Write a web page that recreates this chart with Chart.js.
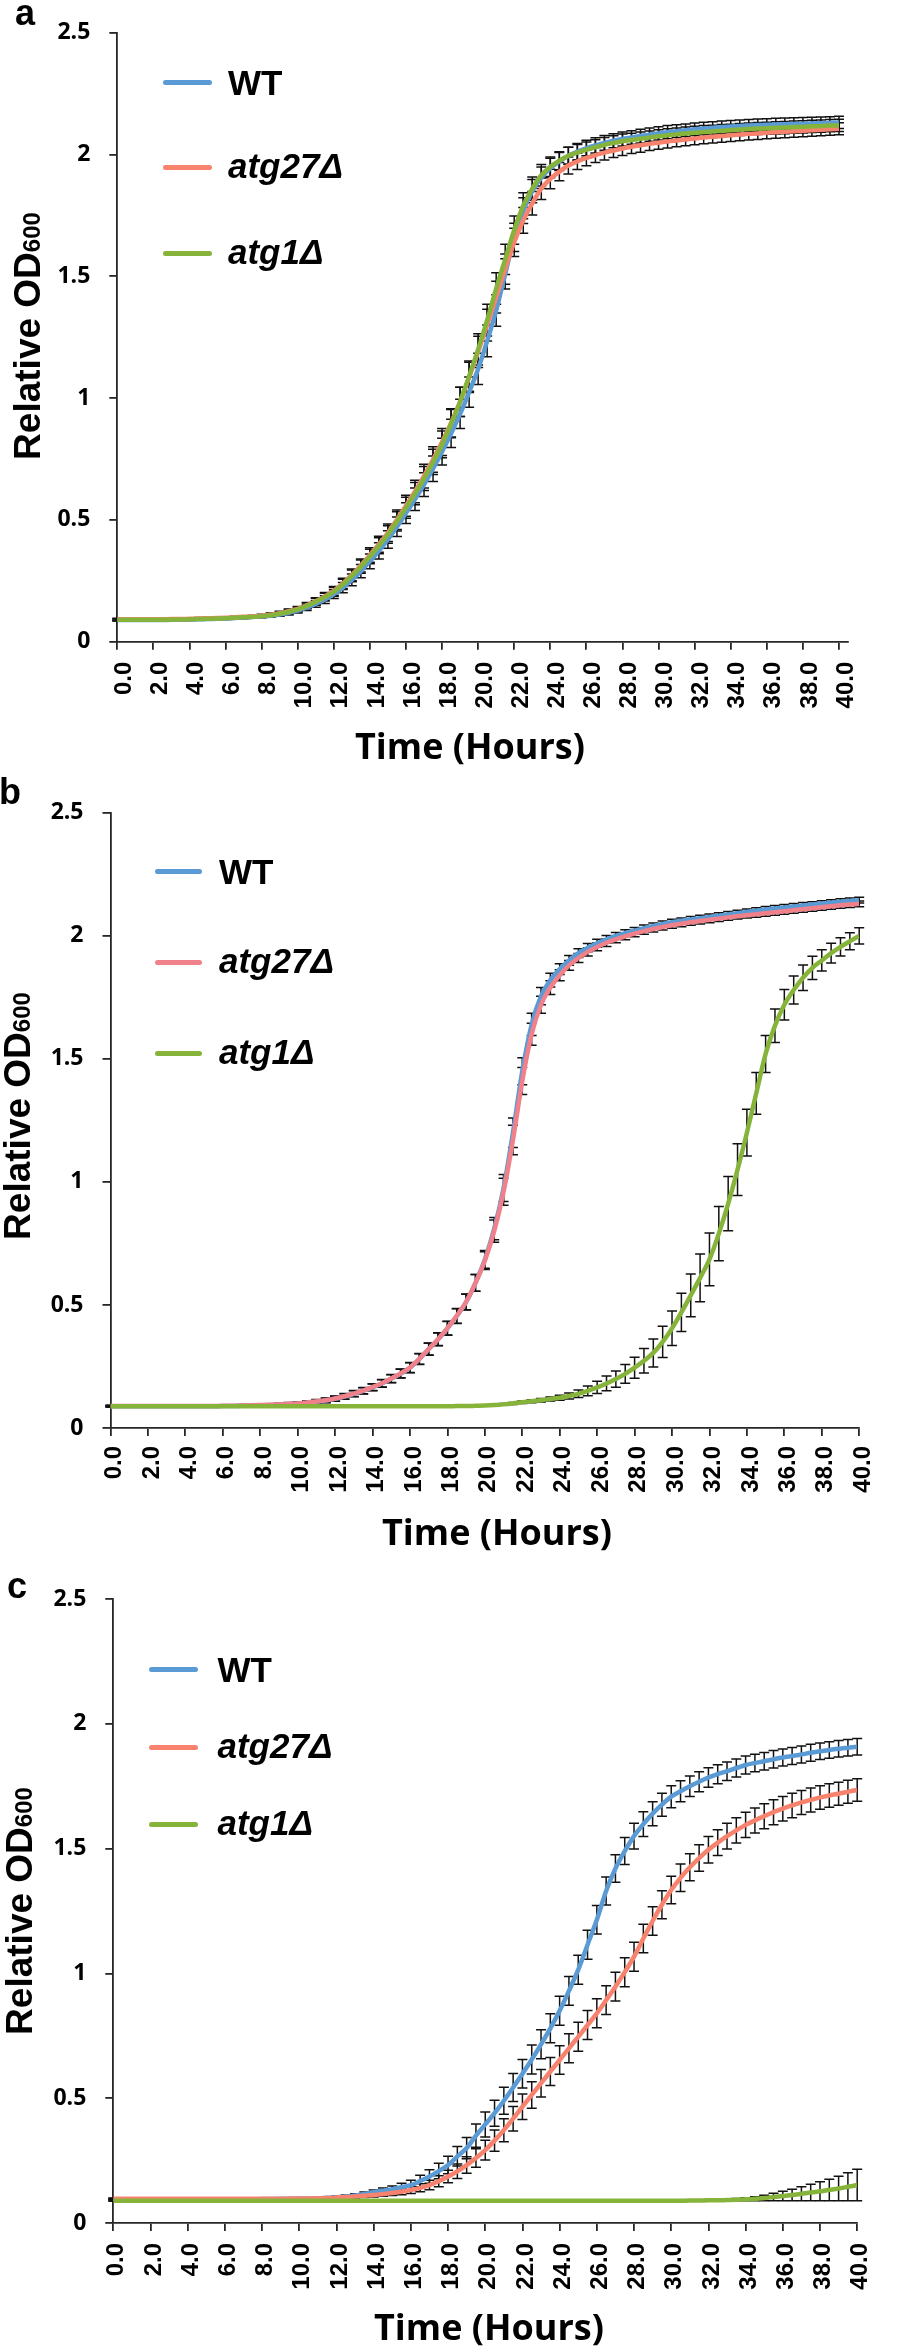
<!DOCTYPE html>
<html>
<head>
<meta charset="utf-8">
<script src="https://cdn.jsdelivr.net/npm/chart.js@4.4.1/dist/chart.umd.min.js"></script>
<style>
  body { margin: 0; background: #fff; }
  #page { position: relative; width: 898px; height: 2350px; overflow: hidden; }
  canvas { position: absolute; left: 0; }
  .letter { position: absolute; font: bold 36px 'Liberation Sans', Arial, sans-serif; line-height: 1; }
  .ytitle { position: absolute; font: bold 37px 'Liberation Sans', Arial, sans-serif; line-height: 1;
            white-space: nowrap; transform: translate(-50%, -50%) rotate(-90deg); }
  .ytitle span { font-size: 24px; }
  .xtitle { position: absolute; font: bold 36px 'Open Sans', sans-serif; line-height: 1;
            white-space: nowrap; transform: translateX(-50%); }
  .key { position: absolute; height: 5px; border-radius: 2.5px; }
  .name { position: absolute; font: bold 35px 'Liberation Sans', Arial, sans-serif; line-height: 1;
          white-space: nowrap; transform: translateY(-50%); }
  .name.it { font-style: italic; }
</style>
</head>
<body>
<div id="page"></div>
<script>
// ---- data (half-hour readings, 0-40 h) ----
const HOURS = [
  0, 0.5, 1, 1.5, 2, 2.5, 3, 3.5, 4, 4.5,
  5, 5.5, 6, 6.5, 7, 7.5, 8, 8.5, 9, 9.5,
  10, 10.5, 11, 11.5, 12, 12.5, 13, 13.5, 14, 14.5,
  15, 15.5, 16, 16.5, 17, 17.5, 18, 18.5, 19, 19.5,
  20, 20.5, 21, 21.5, 22, 22.5, 23, 23.5, 24, 24.5,
  25, 25.5, 26, 26.5, 27, 27.5, 28, 28.5, 29, 29.5,
  30, 30.5, 31, 31.5, 32, 32.5, 33, 33.5, 34, 34.5,
  35, 35.5, 36, 36.5, 37, 37.5, 38, 38.5, 39, 39.5,
  40
];
const X_TICKS = [0, 2, 4, 6, 8, 10, 12, 14, 16, 18, 20, 22, 24, 26, 28, 30, 32, 34, 36, 38, 40];
const Y_TICKS = [0, 0.5, 1, 1.5, 2, 2.5];
const SERIES_NAMES = ['WT', 'atg27Δ', 'atg1Δ'];

// panel a
const A_WT = [
  .089, .089, .089, .089, .089, .089, .090, .090, .091, .092,
  .093, .094, .095, .097, .099, .101, .104, .107, .112, .119,
  .128, .140, .155, .173, .195, .222, .254, .290, .330, .373,
  .420, .472, .528, .585, .645, .710, .780, .855, .935, 1.025,
  1.120, 1.235, 1.360, 1.510, 1.660, 1.770, 1.850, 1.905, 1.945, 1.972,
  1.995, 2.012, 2.027, 2.038, 2.048, 2.057, 2.064, 2.070, 2.076, 2.082,
  2.087, 2.092, 2.096, 2.100, 2.104, 2.107, 2.110, 2.113, 2.115, 2.117,
  2.119, 2.121, 2.122, 2.124, 2.125, 2.126, 2.127, 2.128, 2.129, 2.130,
  2.132
];
const A_ATG27 = [
  .092, .092, .092, .092, .092, .092, .093, .093, .094, .095,
  .096, .097, .098, .100, .102, .104, .107, .111, .117, .125,
  .135, .149, .166, .186, .209, .239, .274, .313, .356, .400,
  .447, .501, .558, .617, .680, .748, .820, .898, .985, 1.085,
  1.190, 1.300, 1.415, 1.530, 1.640, 1.730, 1.800, 1.860, 1.900, 1.930,
  1.955, 1.972, 1.986, 1.998, 2.008, 2.017, 2.025, 2.032, 2.038, 2.044,
  2.049, 2.054, 2.058, 2.062, 2.066, 2.070, 2.073, 2.076, 2.079, 2.082,
  2.085, 2.087, 2.090, 2.092, 2.094, 2.096, 2.098, 2.100, 2.102, 2.104,
  2.106
];
const A_ATG1 = [
  .090, .090, .090, .090, .090, .090, .091, .091, .092, .093,
  .094, .095, .096, .098, .100, .102, .105, .109, .115, .123,
  .133, .147, .164, .183, .205, .235, .270, .308, .350, .394,
  .440, .494, .550, .608, .670, .738, .810, .895, .985, 1.090,
  1.200, 1.320, 1.450, 1.570, 1.690, 1.790, 1.860, 1.915, 1.950, 1.975,
  1.995, 2.008, 2.020, 2.030, 2.040, 2.048, 2.055, 2.060, 2.065, 2.070,
  2.075, 2.079, 2.083, 2.087, 2.090, 2.093, 2.095, 2.098, 2.100, 2.103,
  2.105, 2.107, 2.108, 2.110, 2.111, 2.113, 2.114, 2.116, 2.117, 2.119,
  2.120
];
const A_SD = [
  .004, .004, .004, .004, .004, .004, .004, .004, .004, .004,
  .004, .004, .004, .004, .005, .005, .006, .007, .008, .009,
  .010, .012, .014, .016, .018, .021, .024, .027, .030, .033,
  .036, .040, .043, .046, .049, .052, .055, .058, .060, .062,
  .064, .065, .065, .062, .058, .053, .048, .044, .040, .037,
  .035, .033, .032, .031, .030, .029, .029, .028, .028, .027,
  .027, .027, .026, .026, .026, .026, .025, .025, .025, .025,
  .025, .025, .025, .025, .025, .025, .025, .025, .025, .025,
  .025
];

// panel b
const B_WT = [
  .088, .088, .088, .088, .088, .088, .088, .088, .088, .088,
  .088, .088, .089, .089, .090, .091, .092, .093, .095, .097,
  .099, .103, .107, .112, .119, .128, .139, .151, .165, .181,
  .200, .221, .245, .280, .320, .360, .405, .455, .512, .590,
  .685, .810, .975, 1.200, 1.450, 1.640, 1.755, 1.820, 1.865, 1.900,
  1.930, 1.952, 1.970, 1.986, 2.000, 2.011, 2.021, 2.031, 2.040, 2.048,
  2.055, 2.061, 2.067, 2.072, 2.077, 2.082, 2.087, 2.092, 2.097, 2.102,
  2.107, 2.111, 2.115, 2.119, 2.123, 2.127, 2.131, 2.135, 2.139, 2.142,
  2.145
];
const B_ATG27 = [
  .089, .089, .089, .089, .089, .089, .089, .089, .089, .089,
  .089, .089, .090, .090, .091, .092, .093, .094, .096, .098,
  .100, .104, .108, .113, .120, .129, .140, .152, .166, .182,
  .201, .222, .246, .281, .321, .361, .406, .456, .513, .590,
  .680, .800, .960, 1.170, 1.410, 1.600, 1.720, 1.790, 1.840, 1.880,
  1.910, 1.935, 1.955, 1.972, 1.986, 1.998, 2.009, 2.019, 2.028, 2.036,
  2.043, 2.049, 2.055, 2.060, 2.065, 2.070, 2.075, 2.080, 2.084, 2.088,
  2.092, 2.096, 2.100, 2.104, 2.108, 2.112, 2.116, 2.120, 2.124, 2.127,
  2.130
];
const B_ATG1 = [
  .088, .088, .088, .088, .088, .088, .088, .088, .088, .088,
  .088, .088, .088, .088, .088, .088, .088, .088, .088, .088,
  .088, .088, .088, .088, .088, .088, .088, .088, .088, .088,
  .088, .088, .088, .088, .088, .088, .088, .089, .089, .090,
  .091, .093, .096, .100, .105, .109, .113, .118, .123, .130,
  .139, .151, .165, .181, .199, .220, .245, .273, .305, .350,
  .405, .470, .539, .610, .685, .790, .912, 1.050, 1.200, 1.360,
  1.520, 1.635, 1.720, 1.780, 1.830, 1.870, 1.900, 1.930, 1.955, 1.978,
  2.000
];
const B_SD_WT_ATG27 = [
  .003, .003, .003, .003, .003, .003, .003, .003, .003, .003,
  .003, .003, .003, .003, .004, .004, .004, .005, .005, .006,
  .006, .007, .008, .009, .010, .011, .012, .013, .014, .015,
  .016, .018, .020, .022, .024, .026, .028, .030, .032, .034,
  .036, .045, .055, .060, .055, .045, .035, .028, .022, .020,
  .018, .017, .016, .015, .014, .014, .013, .013, .012, .012,
  .012, .012, .012, .012, .012, .012, .012, .012, .012, .012,
  .012, .012, .012, .012, .012, .012, .012, .012, .012, .012,
  .012
];
const B_SD_ATG1 = [
  .003, .003, .003, .003, .003, .003, .003, .003, .003, .003,
  .003, .003, .003, .003, .003, .003, .003, .003, .003, .003,
  .003, .003, .003, .003, .003, .003, .003, .003, .003, .003,
  .003, .003, .003, .003, .003, .003, .003, .003, .003, .003,
  .003, .003, .004, .004, .005, .006, .007, .008, .010, .012,
  .015, .020, .025, .030, .033, .038, .043, .050, .057, .063,
  .070, .078, .087, .097, .107, .110, .110, .105, .095, .085,
  .075, .068, .062, .057, .052, .047, .043, .040, .037, .035,
  .033
];

// panel c
const C_WT = [
  .095, .095, .095, .095, .095, .095, .095, .095, .095, .095,
  .095, .095, .095, .095, .095, .095, .096, .096, .097, .097,
  .098, .098, .099, .101, .103, .106, .110, .116, .123, .129,
  .135, .143, .152, .168, .186, .208, .232, .267, .300, .350,
  .395, .440, .490, .543, .598, .655, .716, .780, .850, .930,
  1.015, 1.115, 1.215, 1.330, 1.420, 1.490, 1.550, 1.598, 1.640, 1.676,
  1.708, 1.730, 1.750, 1.768, 1.785, 1.798, 1.810, 1.823, 1.835, 1.843,
  1.850, 1.858, 1.865, 1.871, 1.877, 1.884, 1.890, 1.895, 1.900, 1.904,
  1.908
];
const C_ATG27 = [
  .097, .097, .097, .097, .097, .097, .097, .097, .097, .097,
  .097, .097, .097, .097, .097, .097, .097, .097, .097, .098,
  .098, .098, .099, .100, .102, .104, .106, .109, .112, .116,
  .120, .125, .132, .141, .152, .167, .186, .207, .232, .260,
  .292, .330, .372, .418, .466, .513, .560, .607, .653, .700,
  .746, .793, .840, .893, .947, 1.005, 1.067, 1.140, 1.210, 1.275,
  1.334, 1.383, 1.425, 1.462, 1.495, 1.524, 1.550, 1.573, 1.595, 1.613,
  1.630, 1.646, 1.660, 1.673, 1.685, 1.695, 1.705, 1.713, 1.720, 1.728,
  1.735
];
const C_ATG1 = [
  .089, .089, .089, .089, .089, .089, .089, .089, .089, .089,
  .089, .089, .089, .089, .089, .089, .089, .089, .089, .089,
  .089, .089, .089, .089, .089, .089, .089, .089, .089, .089,
  .089, .089, .089, .089, .089, .089, .089, .089, .089, .089,
  .089, .089, .089, .089, .089, .089, .089, .089, .089, .089,
  .089, .089, .089, .089, .089, .089, .089, .089, .089, .089,
  .089, .089, .090, .090, .091, .091, .092, .093, .095, .097,
  .100, .104, .108, .112, .117, .122, .127, .132, .138, .145,
  .152
];
const C_SD_WT = [
  .003, .003, .003, .003, .003, .003, .003, .003, .003, .003,
  .003, .003, .003, .003, .003, .003, .003, .003, .003, .003,
  .003, .003, .004, .004, .005, .006, .007, .008, .009, .011,
  .013, .016, .019, .023, .027, .031, .035, .039, .043, .047,
  .050, .052, .054, .056, .057, .058, .058, .058, .058, .058,
  .058, .058, .057, .056, .055, .054, .052, .050, .048, .046,
  .044, .042, .041, .040, .039, .038, .037, .036, .036, .035,
  .035, .035, .034, .034, .034, .034, .033, .033, .033, .033,
  .033
];
const C_SD_ATG27 = [
  .003, .003, .003, .003, .003, .003, .003, .003, .003, .003,
  .003, .003, .003, .003, .003, .003, .003, .003, .003, .003,
  .003, .003, .003, .004, .004, .005, .006, .007, .008, .009,
  .010, .012, .014, .016, .019, .022, .025, .029, .033, .037,
  .040, .043, .046, .049, .051, .053, .055, .056, .057, .058,
  .058, .058, .058, .058, .058, .058, .058, .057, .057, .056,
  .055, .055, .054, .053, .053, .052, .052, .051, .051, .050,
  .050, .050, .049, .049, .048, .048, .047, .047, .046, .046,
  .045
];
const C_SD_ATG1 = [
  .002, .002, .002, .002, .002, .002, .002, .002, .002, .002,
  .002, .002, .002, .002, .002, .002, .002, .002, .002, .002,
  .002, .002, .002, .002, .002, .002, .002, .002, .002, .002,
  .002, .002, .002, .002, .002, .002, .002, .002, .002, .002,
  .002, .002, .002, .002, .002, .002, .002, .002, .002, .002,
  .002, .002, .002, .002, .002, .002, .002, .002, .002, .002,
  .002, .002, .002, .002, .003, .003, .004, .005, .006, .008,
  .011, .015, .019, .023, .028, .033, .038, .043, .049, .056,
  .063
];

// ---- styling / layout ----
const BLUE = '#5B9BD5';
const SALMON = '#F7836F';
const PINK = '#F08089';
const GREEN = '#86B33A';
const AXIS = '#262626';

const PANELS = [
  { letter: 'a', top: 0, h: 780, left: 117.3, right: 848, areaTop: 31, areaBottom: 641.7, xMax: 40.5,
    tickPad: 12, labelShift: 7, titleX: 26.5, xTitle: [470, 747],
    series: [[A_WT, A_SD, BLUE], [A_ATG27, A_SD, SALMON], [A_ATG1, A_SD, GREEN]],
    key: { x0: 163, x1: 212, tx: 228, rows: [82, 167, 253] }, letterXY: [15, 25] },
  { letter: 'b', top: 780, h: 780, left: 110.5, right: 879.5, areaTop: 23, areaBottom: 648, xMax: 40,
    tickPad: 10, labelShift: 4, titleX: 17, xTitle: [497, 1533],
    series: [[B_WT, B_SD_WT_ATG27, BLUE], [B_ATG27, B_SD_WT_ATG27, PINK], [B_ATG1, B_SD_ATG1, GREEN]],
    key: { x0: 154.5, x1: 201.5, tx: 219, rows: [871, 962, 1053] }, letterXY: [-1, 804] },
  { letter: 'c', top: 1560, h: 790, left: 113.3, right: 864, areaTop: 39, areaBottom: 663, xMax: 40,
    tickPad: 12, labelShift: 3.5, titleX: 18.5, xTitle: [489, 2328],
    series: [[C_WT, C_SD_WT, BLUE], [C_ATG27, C_SD_ATG27, SALMON], [C_ATG1, C_SD_ATG1, GREEN]],
    key: { x0: 149, x1: 197.5, tx: 217.5, rows: [1669, 1747, 1824] }, letterXY: [7, 1598] }
];

// error bars drawn under the lines, from the chart's own scales
const errorBars = {
  id: 'errorBars',
  beforeDatasetsDraw(chart) {
    const { ctx, scales: { x, y } } = chart;
    ctx.save();
    ctx.strokeStyle = '#111';
    ctx.lineWidth = 1.5;
    chart.data.datasets.forEach(ds => {
      ds.data.forEach((p, i) => {
        const px = x.getPixelForValue(p.x);
        const hi = y.getPixelForValue(p.y + ds.sd[i]);
        const lo = y.getPixelForValue(p.y - ds.sd[i]);
        ctx.beginPath();
        ctx.moveTo(px, hi); ctx.lineTo(px, lo);
        ctx.moveTo(px - 5, hi); ctx.lineTo(px + 5, hi);
        ctx.moveTo(px - 5, lo); ctx.lineTo(px + 5, lo);
        ctx.stroke();
      });
    });
    ctx.restore();
  }
};

const page = document.getElementById('page');

function addDiv(cls, css, html) {
  const el = document.createElement('div');
  el.className = cls;
  Object.assign(el.style, css);
  el.innerHTML = html;
  page.appendChild(el);
  return el;
}

PANELS.forEach(p => {
  const canvas = document.createElement('canvas');
  canvas.width = 898;
  canvas.height = p.h;
  canvas.style.top = p.top + 'px';
  page.appendChild(canvas);

  // green on top, then atg27, then WT
  const order = [2, 1, 0];
  const datasets = p.series.map(([vals, sd, color], i) => ({
    label: SERIES_NAMES[i],
    data: vals.map((v, j) => ({ x: HOURS[j], y: v })),
    sd,
    borderColor: color,
    borderWidth: 4.5,
    pointRadius: 0,
    cubicInterpolationMode: 'monotone',
    fill: false,
    order: order[i]
  }));

  new Chart(canvas, {
    type: 'line',
    data: { datasets },
    plugins: [errorBars],
    options: {
      responsive: false,
      animation: false,
      devicePixelRatio: 1,
      layout: { padding: { left: 0, right: 898 - p.right, top: p.areaTop, bottom: 0 } },
      plugins: { legend: { display: false }, tooltip: { enabled: false } },
      scales: {
        x: {
          type: 'linear', min: 0, max: p.xMax,
          afterBuildTicks: s => { s.ticks = X_TICKS.map(v => ({ value: v })); },
          afterFit: s => { s.height = p.h - p.areaBottom; },
          grid: { drawOnChartArea: false, tickLength: 8, color: AXIS, lineWidth: 1.8 },
          border: { color: AXIS, width: 1.8 },
          ticks: {
            autoSkip: false, minRotation: 90, maxRotation: 90,
            padding: p.tickPad, labelOffset: p.labelShift, color: '#000',
            font: { family: 'Liberation Sans', weight: 'bold', size: 24 },
            callback: v => Number(v).toFixed(1)
          },
          title: { display: false }
        },
        y: {
          min: 0, max: 2.5,
          afterBuildTicks: s => { s.ticks = Y_TICKS.map(v => ({ value: v })); },
          afterFit: s => { s.width = p.left; },
          grid: { drawOnChartArea: false, tickLength: 8, color: AXIS, lineWidth: 1.8 },
          border: { color: AXIS, width: 1.8 },
          ticks: {
            padding: 19, color: '#000',
            font: { family: 'Open Sans', weight: 'bold', size: 23 },
            callback: v => String(v)
          }
        }
      }
    }
  });

  // panel letter
  addDiv('letter', { left: p.letterXY[0] + 'px', top: (p.letterXY[1] - 30.5) + 'px' }, p.letter);

  // axis titles
  addDiv('ytitle', { left: p.titleX + 'px', top: (p.top + (p.areaTop + p.areaBottom) / 2) + 'px' },
         'Relative OD<span>600</span>');
  addDiv('xtitle', { left: p.xTitle[0] + 'px', top: (p.xTitle[1] - 19.1) + 'px' }, 'Time (Hours)');

  // legend
  p.key.rows.forEach((ry, i) => {
    addDiv('key', {
      left: p.key.x0 + 'px', width: (p.key.x1 - p.key.x0) + 'px',
      top: (ry - 2.5) + 'px', background: p.series[i][2]
    }, '');
    addDiv(i === 0 ? 'name' : 'name it', {
      left: p.key.tx + 'px', top: (i === 0 ? ry : ry - 2.5) + 'px'
    }, SERIES_NAMES[i]);
  });
});
</script>
</body>
</html>
